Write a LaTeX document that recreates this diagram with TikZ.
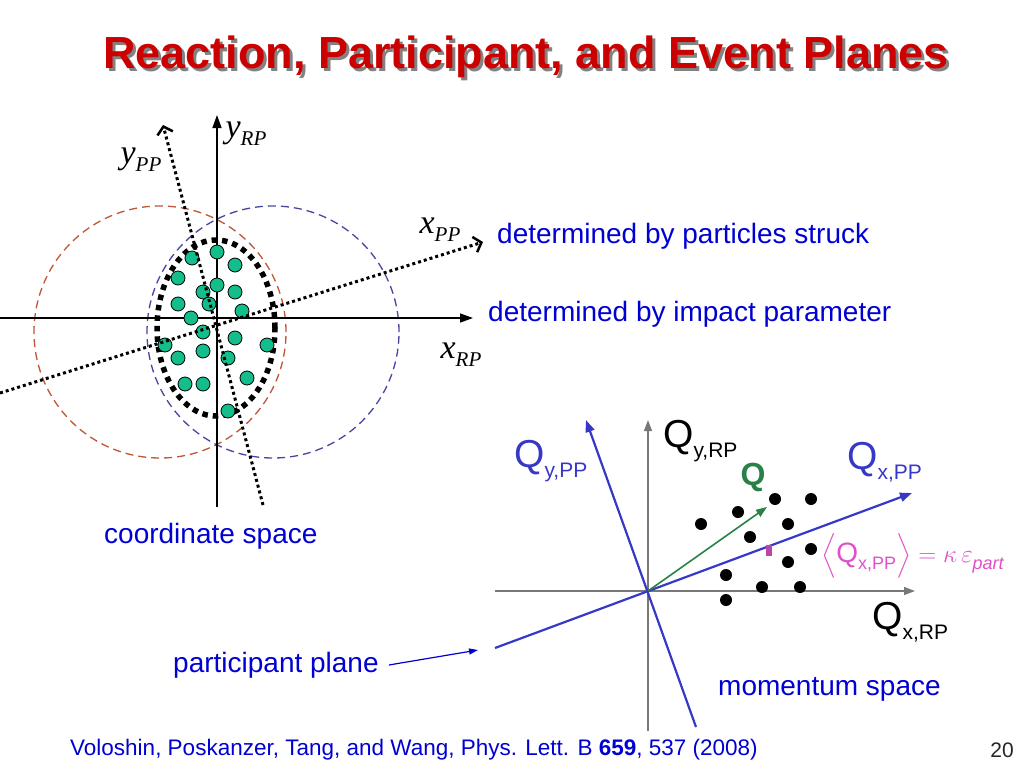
\documentclass[tikz,border=0pt]{standalone}
\usepackage{fontspec}
\setmainfont{Liberation Sans}
\newfontfamily\axisfont{Liberation Serif}
\usepackage{amsmath}
\usetikzlibrary{arrows.meta}

\definecolor{titlered}{RGB}{204,0,0}
\definecolor{titleshade}{RGB}{130,130,130}
\definecolor{textblue}{RGB}{0,0,210}
\definecolor{dotgreen}{RGB}{20,190,140}
\definecolor{rimorange}{RGB}{190,85,55}
\definecolor{rimblue}{RGB}{70,70,160}
\definecolor{axisblue}{RGB}{55,55,200}
\definecolor{axisgray}{RGB}{120,120,120}
\definecolor{qgreen}{RGB}{40,130,70}
\definecolor{avgpink}{RGB}{225,80,200}

% Q with a subscript, as in the momentum space labels
\newcommand{\qlab}[1]{{\fontsize{39}{39}\selectfont Q}\raisebox{-10pt}{\fontsize{21}{21}\selectfont #1}}
% italic serif axis letter with a subscript
\newcommand{\axlab}[2]{{\axisfont\itshape\fontsize{34}{34}\selectfont #1}\raisebox{-8pt}{\axisfont\itshape\fontsize{21}{21}\selectfont #2}}
% title text with its grey shadow behind it
\newcommand{\shadowtitle}[1]{\rlap{\hspace{3pt}\raisebox{-3pt}{\color{titleshade}#1}}#1}

\begin{document}
\begin{tikzpicture}[x=1pt, y=-1pt,
    particle/.style={circle, draw=black, fill=dotgreen, line width=0.8pt, minimum size=14pt, inner sep=0pt},
    hit/.style={circle, fill=black, minimum size=12pt, inner sep=0pt},
    bluetext/.style={text=textblue, font=\fontsize{28}{30}\selectfont, anchor=west, inner sep=0pt},
    axislab/.style={inner sep=0pt},
    qlabel/.style={anchor=west, inner sep=0pt},
    rpaxis/.style={line width=1.4pt, -{Triangle[length=13pt,width=9pt]}},
    ppaxis/.style={line width=3pt, dash pattern=on 3pt off 3pt, -{Straight Barb[length=7pt,width=16pt,line width=2.5pt]}},
    rim/.style={line width=1.3pt, dash pattern=on 8pt off 5pt}]

    \useasboundingbox (0,0) rectangle (1024,768);

    % Title
    \node[text=titlered, font=\fontsize{45}{50}\bfseries, inner sep=0pt] (title) at (526,58) {\shadowtitle{Reaction, Participant, and Event Planes}};

    % ---------- coordinate space ----------
    % Dashed rims of the two nuclei
    \draw[rim, rimorange] (160,332) circle[radius=126pt];
    \draw[rim, rimblue] (273,332) circle[radius=126pt];

    % Reaction plane axes
    \coordinate (xrp-tail) at (0,318);
    \coordinate (xrp-tip) at (473,318);
    \coordinate (yrp-tail) at (217,507);
    \coordinate (yrp-tip) at (217,115);
    \draw[rpaxis] (xrp-tail) -- (xrp-tip);
    \draw[rpaxis] (yrp-tail) -- (yrp-tip);

    % Overlap region
    \draw[line width=5.5pt, dash pattern=on 5.5pt off 5pt] (216,328) ellipse[x radius=59pt, y radius=88pt];

    % Participating nucleons
    \foreach \px/\py [count=\i] in {192/258, 217/252, 235/265, 178/278, 217/285, 203/292,
        235/292, 178/304, 209/304, 242/311, 191/318, 203/332, 235/338, 165/345, 267/345,
        178/358, 203/351, 228/358, 247/378, 185/384, 203/384, 228/411}
      \node[particle] (n\i) at (\px,\py) {};

    % Participant plane axes
    \coordinate (xpp-tail) at (0,393);
    \coordinate (xpp-tip) at (483,242);
    \coordinate (ypp-tail) at (263,505);
    \coordinate (ypp-tip) at (163,125);
    \draw[ppaxis] (xpp-tail) -- (xpp-tip);
    \draw[ppaxis] (ypp-tail) -- (ypp-tip);

    % Axis labels
    \node[axislab] (yrp-lab) at (246,134) {\axlab{y}{RP}};
    \node[axislab] (ypp-lab) at (141,160) {\axlab{y}{PP}};
    \node[axislab] (xpp-lab) at (440,230) {\axlab{x}{PP}};
    \node[axislab] (xrp-lab) at (461,355) {\axlab{x}{RP}};

    \node[bluetext] (struck) at (497,236) {determined by particles struck};
    \node[bluetext] (impact) at (488,314) {determined by impact parameter};
    \node[bluetext] (coord) at (104,536) {coordinate space};

    % ---------- momentum space ----------
    \coordinate (O) at (648,591);
    \coordinate (qxrp-tail) at (495,591);
    \coordinate (qxrp-tip) at (915,591);
    \coordinate (qyrp-tail) at (648,731);
    \coordinate (qyrp-tip) at (648,420);
    \draw[axisgray, line width=1.3pt, -{Triangle[length=11pt,width=8pt]}] (qxrp-tail) -- (qxrp-tip);
    \draw[axisgray, line width=1.3pt, -{Triangle[length=11pt,width=8pt]}] (qyrp-tail) -- (qyrp-tip);

    \coordinate (qxpp-tail) at (495,648);
    \coordinate (qxpp-tip) at (912,493);
    \coordinate (qypp-tail) at (696,727);
    \coordinate (qypp-tip) at (586,420);
    \draw[axisblue, line width=2.2pt, -{Triangle[length=12pt,width=9pt]}] (qxpp-tail) -- (qxpp-tip);
    \draw[axisblue, line width=2.2pt, -{Triangle[length=12pt,width=9pt]}] (qypp-tail) -- (qypp-tip);

    % Particles in momentum space
    \foreach \px/\py [count=\i] in {775/499, 811/499, 738/512, 701/524, 788/524, 750/537,
        811/549, 788/562, 726/575, 762/587, 800/587, 726/600}
      \node[hit] (h\i) at (\px,\py) {};

    % Flow vector
    \coordinate (qtip) at (767,507);
    \draw[qgreen, line width=1.6pt, -{Triangle[length=11pt,width=8pt]}] (O) -- (qtip);
    \node[text=qgreen, font=\fontsize{32}{32}\bfseries, inner sep=0pt] (qname) at (753,477) {Q};

    % Mean along the participant plane
    \node[fill=avgpink!85!black, minimum width=6pt, minimum height=11pt, inner sep=0pt] (mean) at (769,550) {};
    \node[qlabel, text=avgpink, font=\fontsize{28}{28}\selectfont] (avg) at (821,556)
      {$\Big\langle$Q\raisebox{-7pt}{\fontsize{18}{18}\selectfont x,PP}$\Big\rangle = \kappa\,\varepsilon$\raisebox{-7pt}{\fontsize{18}{18}\selectfont\itshape part}};

    \node[qlabel] (qyrp-lab) at (663,441) {\qlab{y,RP}};
    \node[qlabel, text=axisblue] (qypp-lab) at (514,461) {\qlab{y,PP}};
    \node[qlabel, text=axisblue] (qxpp-lab) at (847,462) {\qlab{x,PP}};
    \node[qlabel] (qxrp-lab) at (872,622) {\qlab{x,RP}};

    \node[bluetext] (part) at (173,665) {participant plane};
    \coordinate (plane-end) at (478,650);
    \draw[textblue, line width=1.2pt, -{Triangle[length=9pt,width=6pt]}] (part.east) ++(10pt,0) -- (plane-end);
    \node[bluetext] (mom) at (718,689) {momentum space};

    % Reference and page number
    \node[text=textblue, font=\fontsize{22.5}{24}\selectfont, anchor=west, inner sep=0pt] (ref) at (70,750)
      {Voloshin, Poskanzer, Tang, and Wang, Phys. Lett. B \textbf{659}, 537 (2008)};
    \node[text=black!85, font=\fontsize{21}{24}\selectfont, inner sep=0pt] (page) at (1002,750) {20};

\end{tikzpicture}
\end{document}
